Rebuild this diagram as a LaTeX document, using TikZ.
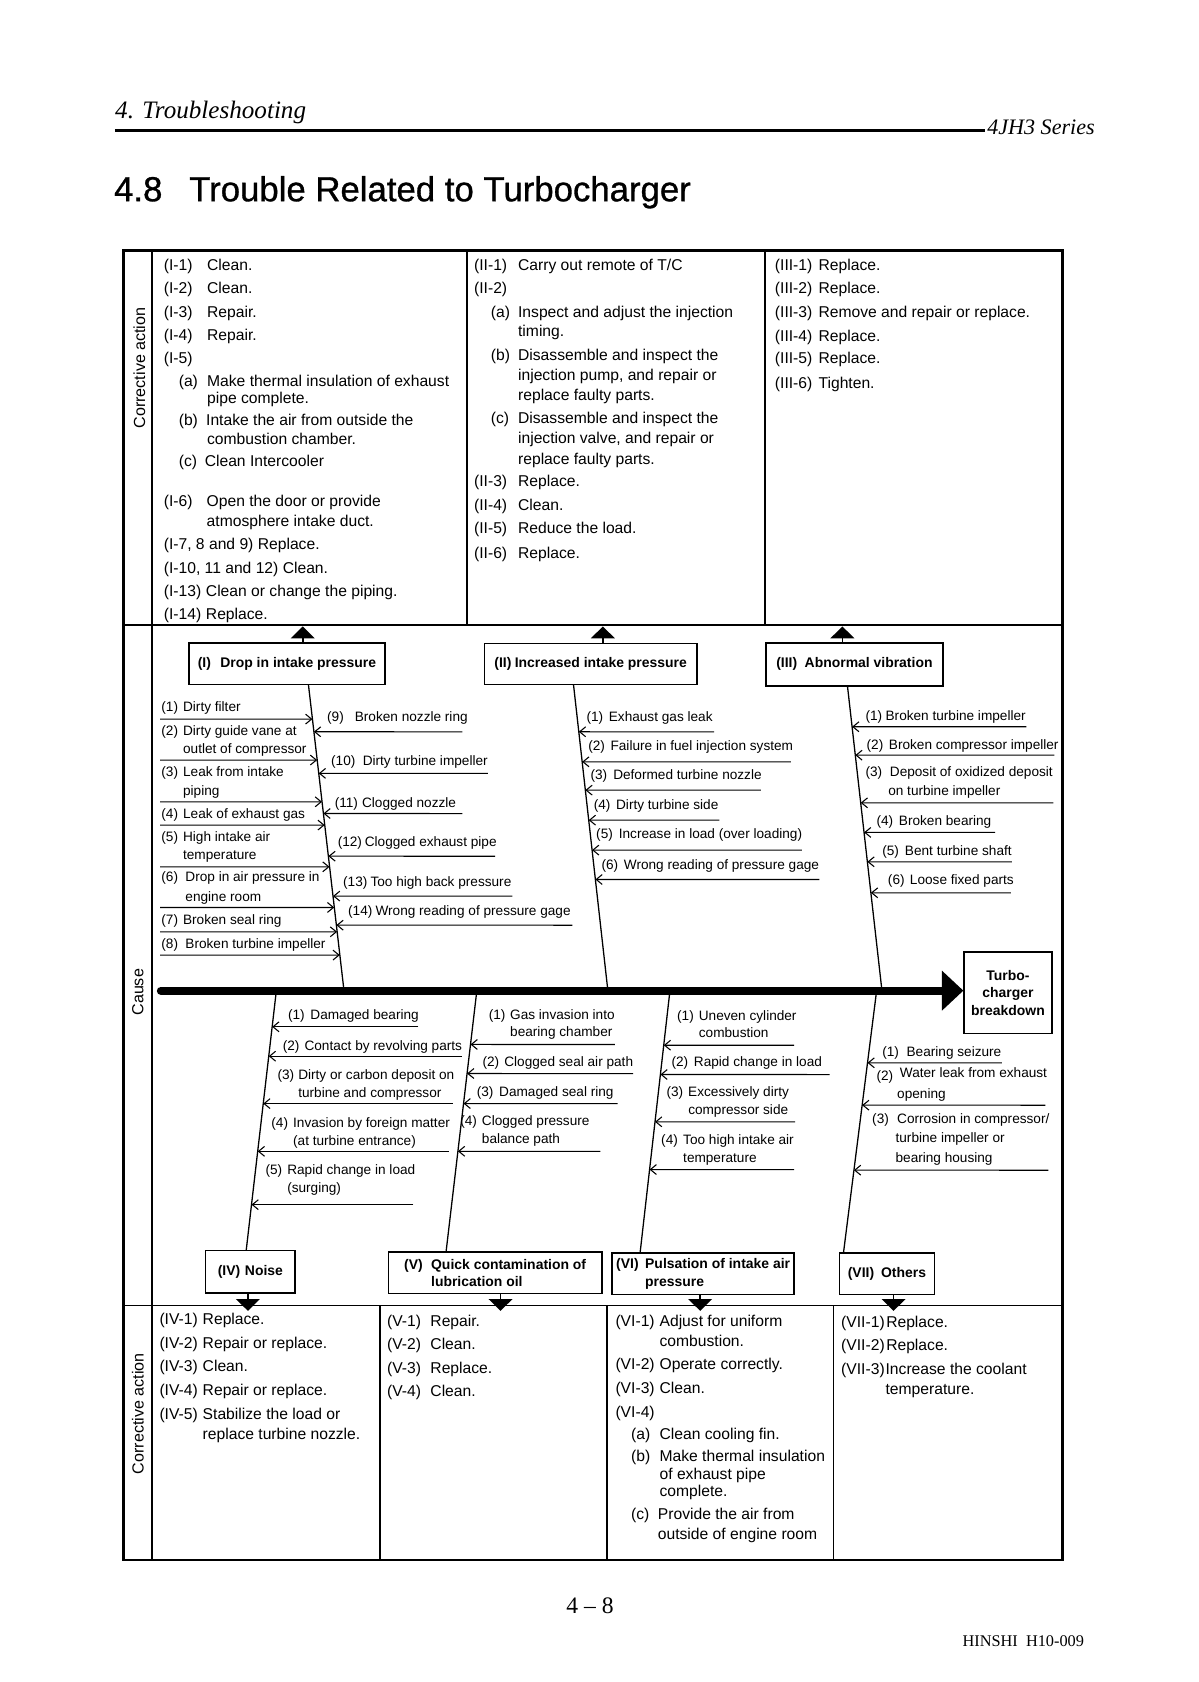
\documentclass[tikz,border=0pt]{standalone}
\usepackage{fontspec}
\setmainfont{Liberation Sans}
\newfontfamily\serf{Liberation Serif}
\newfontfamily\ttlfont[FakeBold=0.9]{Liberation Sans}
\usetikzlibrary{arrows.meta,calc}
\newlength\ux \setlength\ux{0.5pt}
\newcommand\lab[2]{\makebox[#1\ux][l]{#2}}
\newcounter{nn}
\newcommand\TX[4]{\stepcounter{nn}\node[#1] (n\arabic{nn}) at (#2,#3) {#4};}
\newcounter{cc}
\newcommand\CA[3]{\stepcounter{cc}\coordinate (cs\arabic{cc}) at (#3,#2);\draw[ca] (cs\arabic{cc}) -- (intersection of #1t--#1b and 0,#2--1000,#2);}
\tikzset{
 tx/.style={anchor=west, inner sep=0pt, font=\fontsize{7.3}{9}\selectfont, text height=5.2pt, text depth=0pt},
 fb/.style={anchor=west, inner sep=0pt, font=\fontsize{6.35}{8}\selectfont, text height=4.55pt, text depth=0pt},
 hdr/.style={anchor=west, inner sep=0pt, font=\serf\itshape\fontsize{11.7}{13}\selectfont, text height=7.6pt, text depth=0pt},
 hdrb/.style={anchor=west, inner sep=0pt, font=\serf\itshape\fontsize{10.3}{12}\selectfont, text height=7pt, text depth=0pt},
 ttl/.style={anchor=west, inner sep=0pt, font=\ttlfont\fontsize{16.2}{18}\selectfont, text height=11.6pt, text depth=0pt},
 ftr/.style={anchor=west, inner sep=0pt, font=\serf\fontsize{7.6}{9}\selectfont, text height=5pt, text depth=0pt},
 bx/.style={draw, line width=0.7pt, inner sep=0pt, font=\bfseries\fontsize{6.5}{8.2}\selectfont, align=left},
 rot/.style={rotate=90, inner sep=0pt, font=\fontsize{7.5}{9}\selectfont},
 bone/.style={line width=0.6pt},
 ca/.style={line width=0.5pt, -{Straight Barb[length=2.8pt,width=4.6pt]}},
 fa/.style={line width=0.8pt, -{Triangle[length=5.5pt,width=11pt]}},
 frame/.style={line width=1.1pt},
 grid/.style={line width=0.9pt},
}
\begin{document}
\begin{tikzpicture}[x=0.5pt,y=-0.5pt]
\useasboundingbox (0,0) rectangle (1117,1568);
% ---------------- header
\TX{hdr}{107}{103}{4. Troubleshooting}
\TX{hdrb}{920}{118}{4JH3 Series}
\draw[line width=1.4pt] (107,122) -- (918,122);
\TX{ttl}{106}{176}{4.8}
\TX{ttl}{176}{176}{Trouble Related to Turbocharger}
% ---------------- footer
\node[inner sep=0pt, font=\serf\fontsize{11}{12}\selectfont] (pg) at (550,1497) {4 \textendash{} 8};
\TX{ftr}{897}{1530}{HINSHI\ \ H10-009}
% ---------------- table frame
\draw[frame] (115,233.5) rectangle (990.5,1454);
\draw[grid] (142,233.5) -- (142,1454);
\draw[grid] (115,583) -- (990.5,583);
\draw[grid] (115,1217) -- (990.5,1217);
\draw[grid] (435,233.5) -- (435,583);
\draw[grid] (713,233.5) -- (713,583);
\draw[grid] (354,1217) -- (354,1454);
\draw[grid] (566,1217) -- (566,1454);
\draw[grid] (777,1217) -- (777,1454);
\node[rot] (rca1) at (130,343) {Corrective action};
\node[rot] (rcause) at (128.5,925) {Cause};
\node[rot] (rca2) at (128.5,1318) {Corrective action};
% ---------------- top corrective actions
\TX{tx}{152.3}{247.1}{\lab{40.4}{(I-1)}Clean.}
\TX{tx}{152.3}{268.8}{\lab{40.4}{(I-2)}Clean.}
\TX{tx}{152.3}{290.6}{\lab{40.4}{(I-3)}Repair.}
\TX{tx}{152.3}{312.4}{\lab{40.4}{(I-4)}Repair.}
\TX{tx}{152.3}{334.1}{(I-5)}
\TX{tx}{166.3}{355.2}{\lab{26.4}{(a)}Make thermal insulation of exhaust}
\TX{tx}{192.7}{371.4}{pipe complete.}
\TX{tx}{166.3}{391.6}{\lab{25.5}{(b)}Intake the air from outside the}
\TX{tx}{192.7}{409.3}{combustion chamber.}
\TX{tx}{166.3}{429.8}{\lab{24.2}{(c)}Clean Intercooler}
\TX{tx}{152.3}{466.8}{\lab{40}{(I-6)}Open the door or provide}
\TX{tx}{192.3}{485.5}{atmosphere intake duct.}
\TX{tx}{152.3}{507.2}{(I-7, 8 and 9) Replace.}
\TX{tx}{152.3}{529}{(I-10, 11 and 12) Clean.}
\TX{tx}{152.3}{550.7}{\lab{39.3}{(I-13)}Clean or change the piping.}
\TX{tx}{152.3}{571.9}{\lab{39.3}{(I-14)}Replace.}
\TX{tx}{441.6}{247.1}{\lab{41}{(II-1)}Carry out remote of T/C}
\TX{tx}{441.6}{268.8}{(II-2)}
\TX{tx}{457.2}{290.6}{\lab{25.4}{(a)}Inspect and adjust the injection}
\TX{tx}{482.6}{308.6}{timing.}
\TX{tx}{457.2}{330.4}{\lab{25.4}{(b)}Disassemble and inspect the}
\TX{tx}{482.6}{349.7}{injection pump, and repair or}
\TX{tx}{482.6}{368.3}{replace faulty parts.}
\TX{tx}{457.2}{389.4}{\lab{25.4}{(c)}Disassemble and inspect the}
\TX{tx}{482.6}{408.7}{injection valve, and repair or}
\TX{tx}{482.6}{427.4}{replace faulty parts.}
\TX{tx}{441.6}{448.2}{\lab{41}{(II-3)}Replace.}
\TX{tx}{441.6}{470.9}{\lab{41}{(II-4)}Clean.}
\TX{tx}{441.6}{491.7}{\lab{41}{(II-5)}Reduce the load.}
\TX{tx}{441.6}{515}{\lab{41}{(II-6)}Replace.}
\TX{tx}{722}{247.1}{\lab{40.7}{(III-1)}Replace.}
\TX{tx}{722}{268.8}{\lab{40.7}{(III-2)}Replace.}
\TX{tx}{722}{290.6}{\lab{40.7}{(III-3)}Remove and repair or replace.}
\TX{tx}{722}{313}{\lab{40.7}{(III-4)}Replace.}
\TX{tx}{722}{334.1}{\lab{40.7}{(III-5)}Replace.}
\TX{tx}{722}{356.5}{\lab{40.7}{(III-6)}Tighten.}
% ---------------- bottom corrective actions
\TX{tx}{148.3}{1229.8}{\lab{40.3}{(IV-1)}Replace.}
\TX{tx}{148.3}{1251.6}{\lab{40.3}{(IV-2)}Repair or replace.}
\TX{tx}{148.3}{1273.4}{\lab{40.3}{(IV-3)}Clean.}
\TX{tx}{148.3}{1295.4}{\lab{40.3}{(IV-4)}Repair or replace.}
\TX{tx}{148.3}{1317.8}{\lab{40.3}{(IV-5)}Stabilize the load or}
\TX{tx}{188.6}{1336.5}{replace turbine nozzle.}
\TX{tx}{360.5}{1231.4}{\lab{40.4}{(V-1)}Repair.}
\TX{tx}{360.5}{1253.1}{\lab{40.4}{(V-2)}Clean.}
\TX{tx}{360.5}{1274.9}{\lab{40.4}{(V-3)}Replace.}
\TX{tx}{360.5}{1297}{\lab{40.4}{(V-4)}Clean.}
\TX{tx}{573.4}{1231.4}{\lab{41.1}{(VI-1)}Adjust for uniform}
\TX{tx}{614.5}{1250}{combustion.}
\TX{tx}{573.4}{1271.8}{\lab{41.1}{(VI-2)}Operate correctly.}
\TX{tx}{573.4}{1293.6}{\lab{41.1}{(VI-3)}Clean.}
\TX{tx}{573.4}{1316.2}{(VI-4)}
\TX{tx}{588}{1337.1}{\lab{26.5}{(a)}Clean cooling fin.}
\TX{tx}{588}{1357.3}{\lab{26.5}{(b)}Make thermal insulation}
\TX{tx}{614.5}{1373.8}{of exhaust pipe}
\TX{tx}{614.5}{1390.2}{complete.}
\TX{tx}{588}{1411.7}{\lab{24.9}{(c)}Provide the air from}
\TX{tx}{612.9}{1430.3}{outside of engine room}
\TX{tx}{783.8}{1232.3}{\lab{42}{(VII-1)}Replace.}
\TX{tx}{783.8}{1254.1}{\lab{42}{(VII-2)}Replace.}
\TX{tx}{783.8}{1275.8}{\lab{41.4}{(VII-3)}Increase the coolant}
\TX{tx}{825.2}{1294.5}{temperature.}
% ---------------- problem boxes
\node[bx, minimum width=91.5pt, minimum height=19.25pt] (bxI) at (267.5,618.8) {\lab{21}{(I)}Drop in intake pressure};
\node[bx, minimum width=99pt, minimum height=19pt] (bxII) at (550.6,619) {\lab{19}{(II)}Increased intake pressure};
\node[bx, minimum width=82.5pt, minimum height=20pt] (bxIII) at (796.5,619.3) {\lab{26.5}{(III)}Abnormal vibration};
\node[bx, minimum width=41.75pt, minimum height=19.9pt] (bxIV) at (233.4,1185.6) {\lab{25.3}{(IV)}Noise};
\node[bx, minimum width=99.4pt, minimum height=19.4pt] (bxV) at (461.6,1186.6) {\lab{25.1}{(V)}Quick contamination of\\\hspace*{25.1\ux}lubrication oil};
\node[bx, minimum width=84.85pt, minimum height=19.25pt] (bxVI) at (655.5,1187.3) {\lab{27}{(VI)}Pulsation of intake air\\\hspace*{27\ux}pressure};
\node[bx, minimum width=44.15pt, minimum height=19.25pt] (bxVII) at (826.8,1187.3) {\lab{31}{(VII)}Others};
\node[bx, align=center, minimum width=40.9pt, minimum height=38.1pt] (bxT) at (939.7,925.4) {Turbo-\\charger\\breakdown};
% ---------------- arrows to corrective action sections
\coordinate (uaI) at (282.2,584);
\coordinate (uaII) at (562,584);
\coordinate (uaIII) at (785.3,584);
\draw[fa] (bxI.north -| uaI) -- (uaI);
\draw[fa] (bxII.north -| uaII) -- (uaII);
\draw[fa] (bxIII.north -| uaIII) -- (uaIII);
\coordinate (daIV) at (231.1,1222);
\coordinate (daV) at (466.6,1222);
\coordinate (daVI) at (652.7,1222);
\coordinate (daVII) at (833,1222);
\draw[fa] (bxIV.south -| daIV) -- (daIV);
\draw[fa] (bxV.south -| daV) -- (daV);
\draw[fa] (bxVI.south -| daVI) -- (daVI);
\draw[fa] (bxVII.south -| daVII) -- (daVII);
% ---------------- spine
\coordinate (spL) at (150,923.5);
\draw[line width=3.8pt, line cap=round, -{Triangle[length=10pt,width=18pt]}] (spL) -- (bxT.west |- spL);
% ---------------- bones
\coordinate (bIt) at (287.5,638);   \coordinate (bIb) at (320.5,922);
\coordinate (bIIt) at (534.6,638);  \coordinate (bIIb) at (566.5,922);
\coordinate (bIIIt) at (790,639.3); \coordinate (bIIIb) at (822,922);
\coordinate (bIVt) at (257.8,922);  \coordinate (bIVb) at (229.5,1165.7);
\coordinate (bVt) at (444.7,922);   \coordinate (bVb) at (415.8,1167.2);
\coordinate (bVIt) at (624.7,922);  \coordinate (bVIb) at (596.7,1168);
\coordinate (bVIIt) at (817.4,922); \coordinate (bVIIb) at (786.3,1168);
\draw[bone] (bIt) -- (bIb);
\draw[bone] (bIIt) -- (bIIb);
\draw[bone] (bIIIt) -- (bIIIb);
\draw[bone] (bIVt) -- (bIVb);
\draw[bone] (bVt) -- (bVb);
\draw[bone] (bVIt) -- (bVIb);
\draw[bone] (bVIIt) -- (bVIIb);
% ---------------- causes I
\TX{fb}{150.1}{658.9}{\lab{20.2}{(1)}Dirty filter}
\TX{fb}{150.1}{680.7}{\lab{20.2}{(2)}Dirty guide vane at}
\TX{fb}{170.3}{697.8}{outlet of compressor}
\TX{fb}{150.1}{719.5}{\lab{20.2}{(3)}Leak from intake}
\TX{fb}{170.3}{736.6}{piping}
\TX{fb}{150.1}{758.3}{\lab{20.2}{(4)}Leak of exhaust gas}
\TX{fb}{150.1}{780.1}{\lab{20.2}{(5)}High intake air}
\TX{fb}{170.3}{796.6}{temperature}
\TX{fb}{150.1}{817.4}{\lab{22.4}{(6)}Drop in air pressure in}
\TX{fb}{172.5}{835.4}{engine room}
\TX{fb}{150.1}{857.2}{\lab{20.2}{(7)}Broken seal ring}
\TX{fb}{150.1}{879.6}{\lab{22.4}{(8)}Broken turbine impeller}
\CA{bI}{670.4}{149.2}
\CA{bI}{708.6}{149.2}
\CA{bI}{747.5}{149.2}
\CA{bI}{769.2}{149.2}
\CA{bI}{808.1}{149.2}
\CA{bI}{846}{149.2}
\CA{bI}{868.7}{149.2}
\CA{bI}{890.4}{149.2}
\TX{fb}{304.6}{668.2}{\lab{25.8}{(9)}Broken nozzle ring}
\TX{fb}{308.3}{709.3}{\lab{29.5}{(10)}Dirty turbine impeller}
\TX{fb}{311.7}{748.4}{\lab{25.5}{(11)}Clogged nozzle}
\TX{fb}{314.5}{784.8}{\lab{25.2}{(12)}Clogged exhaust pipe}
\TX{fb}{319.5}{821.4}{\lab{25.5}{(13)}Too high back pressure}
\TX{fb}{324.2}{849.1}{\lab{25.5}{(14)}Wrong reading of pressure gage}
\CA{bI}{682.2}{431.1}
\CA{bI}{721}{454.7}
\CA{bI}{758.4}{431.1}
\CA{bI}{798.2}{461.5}
\CA{bI}{835.4}{477.7}
\CA{bI}{862.5}{533.6}
% ---------------- causes II
\TX{fb}{546.4}{667.6}{\lab{20.8}{(1)}Exhaust gas leak}
\TX{fb}{548}{695}{\lab{20.8}{(2)}Failure in fuel injection system}
\TX{fb}{550.1}{722.3}{\lab{21.2}{(3)}Deformed turbine nozzle}
\TX{fb}{553.2}{749.7}{\lab{20.8}{(4)}Dirty turbine side}
\TX{fb}{555.4}{777}{\lab{21.1}{(5)}Increase in load (over loading)}
\TX{fb}{560.4}{805.6}{\lab{20.8}{(6)}Wrong reading of pressure gage}
\CA{bII}{682.2}{665.7}
\CA{bII}{710.2}{737.2}
\CA{bII}{736.6}{709.2}
\CA{bII}{764.6}{670.7}
\CA{bII}{792.5}{747.5}
\CA{bII}{819.9}{763.9}
% ---------------- causes III
\TX{fb}{806.5}{667.3}{\lab{18.7}{(1)}Broken turbine impeller}
\TX{fb}{807.5}{693.7}{\lab{20.8}{(2)}Broken compressor impeller}
\TX{fb}{806.5}{719.5}{\lab{22.7}{(3)}Deposit of oxidized deposit}
\TX{fb}{827.7}{737.2}{on turbine impeller}
\TX{fb}{816.8}{764.6}{\lab{20.8}{(4)}Broken bearing}
\TX{fb}{822.1}{792.5}{\lab{21.1}{(5)}Bent turbine shaft}
\TX{fb}{827.4}{819.9}{\lab{20.5}{(6)}Loose fixed parts}
\CA{bIII}{677.5}{956.7}
\CA{bIII}{704}{983}
\CA{bIII}{748.4}{982}
\CA{bIII}{776}{927.7}
\CA{bIII}{803.4}{943.3}
\CA{bIII}{832.3}{942.3}
% ---------------- causes IV
\TX{fb}{268.1}{946.3}{\lab{20.9}{(1)}Damaged bearing}
\TX{fb}{263.2}{974.3}{\lab{20.3}{(2)}Contact by revolving parts}
\TX{fb}{258.4}{1001.7}{\lab{19.3}{(3)}Dirty or carbon deposit on}
\TX{fb}{277.7}{1018.5}{turbine and compressor}
\TX{fb}{252.6}{1046.2}{\lab{20.3}{(4)}Invasion by foreign matter}
\TX{fb}{272.9}{1063}{(at turbine entrance)}
\TX{fb}{247.2}{1090.4}{\lab{20.2}{(5)}Rapid change in load}
\TX{fb}{267.4}{1106.9}{(surging)}
\CA{bIV}{957.2}{390.1}
\CA{bIV}{984.6}{430.3}
\CA{bIV}{1028.8}{422.2}
\CA{bIV}{1073.3}{418.4}
\CA{bIV}{1123}{385.3}
% ---------------- causes V
\TX{fb}{455.3}{945.4}{\lab{19.9}{(1)}Gas invasion into}
\TX{fb}{475.2}{961.9}{bearing chamber}
\TX{fb}{449.5}{989.3}{\lab{20.3}{(2)}Clogged seal air path}
\TX{fb}{444.1}{1017.3}{\lab{20.9}{(3)}Damaged seal ring}
\TX{fb}{428.7}{1045}{\lab{20.2}{(4)}Clogged pressure}
\TX{fb}{448.9}{1061.4}{balance path}
\CA{bV}{973.7}{573.2}
\CA{bV}{1000.8}{590.2}
\CA{bV}{1028.8}{575.8}
\CA{bV}{1073.3}{559.7}
% ---------------- causes VI
\TX{fb}{630.9}{946.4}{\lab{20.2}{(1)}Uneven cylinder}
\TX{fb}{651.1}{962.6}{combustion}
\TX{fb}{625.6}{989.9}{\lab{20.9}{(2)}Rapid change in load}
\TX{fb}{621}{1017.9}{\lab{20.2}{(3)}Excessively dirty}
\TX{fb}{641.2}{1034.3}{compressor side}
\TX{fb}{616}{1062.3}{\lab{20.5}{(4)}Too high intake air}
\TX{fb}{636.5}{1079.1}{temperature}
\CA{bVI}{974.4}{740.3}
\CA{bVI}{1001.7}{773.3}
\CA{bVI}{1045.8}{741.3}
\CA{bVI}{1090.3}{740.3}
% ---------------- causes VII
\TX{fb}{822.1}{980}{\lab{22.7}{(1)}Bearing seizure}
\TX{fb}{816.8}{1002.3}{(2)}
\TX{fb}{838.5}{1000.1}{Water leak from exhaust}
\TX{fb}{836}{1019.4}{opening}
\TX{fb}{812.7}{1042.7}{\lab{23.3}{(3)}Corrosion in compressor/}
\TX{fb}{834.5}{1060.8}{turbine impeller or}
\TX{fb}{834.5}{1079.1}{bearing housing}
\CA{bVII}{990.8}{934}
\CA{bVII}{1030.3}{974.4}
\CA{bVII}{1090.9}{977.4}
\end{tikzpicture}
\end{document}
